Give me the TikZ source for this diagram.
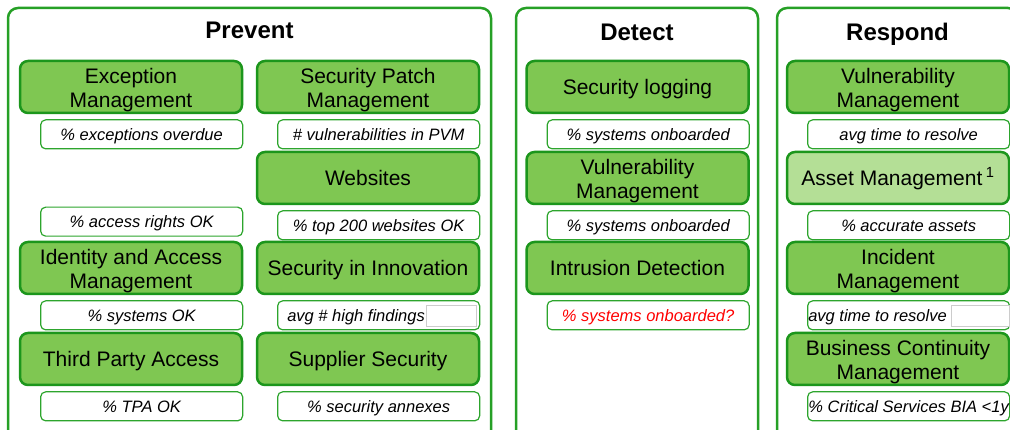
\documentclass[tikz,border=0pt]{standalone}
\usepackage{fontspec}
\setmainfont{Liberation Sans}
\usepackage{tikz}
\usetikzlibrary{positioning}
\definecolor{capfill}{RGB}{127,199,82}
\definecolor{capline}{RGB}{28,150,28}
\definecolor{lightfill}{RGB}{180,223,150}
\definecolor{panelline}{RGB}{38,160,38}
\definecolor{kpiline}{RGB}{45,165,45}
\newcommand{\firstline}{\rule{0pt}{21pt}}
\tikzstyle{panel} = [rounded corners=10pt,
draw=panelline,
line width=2.5pt,
fill=white]
\tikzstyle{paneltitle} = [anchor=base,
font=\fontsize{24}{28}\selectfont\bfseries]
\tikzstyle{capability} = [rectangle, rounded corners=8pt,
minimum width=222pt,
minimum height=52pt,
text centered, align=center,
inner sep=0pt,
font=\fontsize{21}{23.5}\selectfont,
draw=capline, line width=2.5pt,
fill=capfill]
\tikzstyle{oneline} = [text height=16pt, text depth=1pt]
\tikzstyle{kpi} = [rectangle, rounded corners=5pt,
minimum width=202pt,
minimum height=29pt,
inner sep=0pt,
text height=12pt, text depth=0pt,
font=\fontsize{16.5}{18}\selectfont\itshape,
draw=kpiline, line width=1.2pt,
fill=white]
\tikzstyle{kpitext} = [anchor=west, inner sep=0pt,
text height=12pt, text depth=0pt,
font=\fontsize{16.5}{18}\selectfont\itshape]
\tikzstyle{blankbox} = [rectangle, draw=black!20, line width=0.6pt,
fill=white, minimum height=21pt, inner sep=0pt]

\begin{document}
\begin{tikzpicture}[x=1pt, y=-1pt, node distance=5pt]
\clip (0,0) rectangle (1010,430);

% the three panels
\draw [panel] (8,8) rectangle (491,460);
\draw [panel] (516,8) rectangle (758,460);
\draw [panel] (777,8) rectangle (1018,460);
\node (prevent) [paneltitle] at (249.5,39) {Prevent};
\node (detect) [paneltitle] at (637,41) {Detect};
\node (respond) [paneltitle] at (897.5,41) {Respond};

% Prevent
\node (exc) [capability] at (131,87) {\firstline Exception\\Management};
\node (spm) [capability] at (368,87) {\firstline Security Patch\\Management};
\node (web) [capability, oneline] at (368,178) {Websites};
\node (iam) [capability] at (131,268) {\firstline Identity and Access\\Management};
\node (sii) [capability, oneline] at (368,268) {Security in Innovation};
\node (tpa) [capability, oneline] at (131,359) {Third Party Access};
\node (sup) [capability, oneline] at (368,359) {Supplier Security};

\node (exck) [kpi, below=5pt of exc.south east, anchor=north east] {\% exceptions overdue};
\node (spmk) [kpi, below=5pt of spm.south east, anchor=north east] {\# vulnerabilities in PVM};
\node (webk) [kpi, below=5pt of web.south east, anchor=north east] {\% top 200 websites OK};
\node (accessk) [kpi, above=4pt of iam.north east, anchor=south east] {\% access rights OK};
\node (iamk) [kpi, below=5pt of iam.south east, anchor=north east] {\% systems OK};
\node (siik) [kpi, below=5pt of sii.south east, anchor=north east] {};
\node (siit) [kpitext] at ([xshift=10pt]siik.west) {avg \# high findings};
\node (siib) [blankbox, minimum width=50pt, left=4pt of siik.east] {};
\node (tpak) [kpi, below=5pt of tpa.south east, anchor=north east] {\% TPA OK};
\node (supk) [kpi, below=5pt of sup.south east, anchor=north east] {\% security annexes};

% Detect
\node (slog) [capability, oneline] at (637.5,87) {Security logging};
\node (dvm) [capability] at (637.5,178) {\firstline Vulnerability\\Management};
\node (ids) [capability, oneline] at (637.5,268) {Intrusion Detection};

\node (slogk) [kpi, below=5pt of slog.south east, anchor=north east] {\% systems onboarded};
\node (dvmk) [kpi, below=5pt of dvm.south east, anchor=north east] {\% systems onboarded};
\node (idsk) [kpi, text=red, below=5pt of ids.south east, anchor=north east] {\% systems onboarded?};

% Respond
\node (rvm) [capability] at (898,87) {\firstline Vulnerability\\Management};
\node (asset) [capability, oneline, fill=lightfill] at (898,178) {Asset Management\,\textsuperscript{1}};
\node (inc) [capability] at (898,268) {\firstline Incident\\Management};
\node (bcm) [capability] at (898,359) {\firstline Business Continuity\\Management};

\node (rvmk) [kpi, below=5pt of rvm.south east, anchor=north east] {avg time to resolve};
\node (assetk) [kpi, below=5pt of asset.south east, anchor=north east] {\% accurate assets};
\node (inck) [kpi, below=5pt of inc.south east, anchor=north east] {};
\node (inct) [kpitext] at ([xshift=1pt]inck.west) {avg time to resolve};
\node (incb) [blankbox, minimum width=58pt, left=1pt of inck.east] {};
\node (bcmk) [kpi, below=5pt of bcm.south east, anchor=north east] {\% Critical Services BIA <1y};
\end{tikzpicture}
\end{document}
